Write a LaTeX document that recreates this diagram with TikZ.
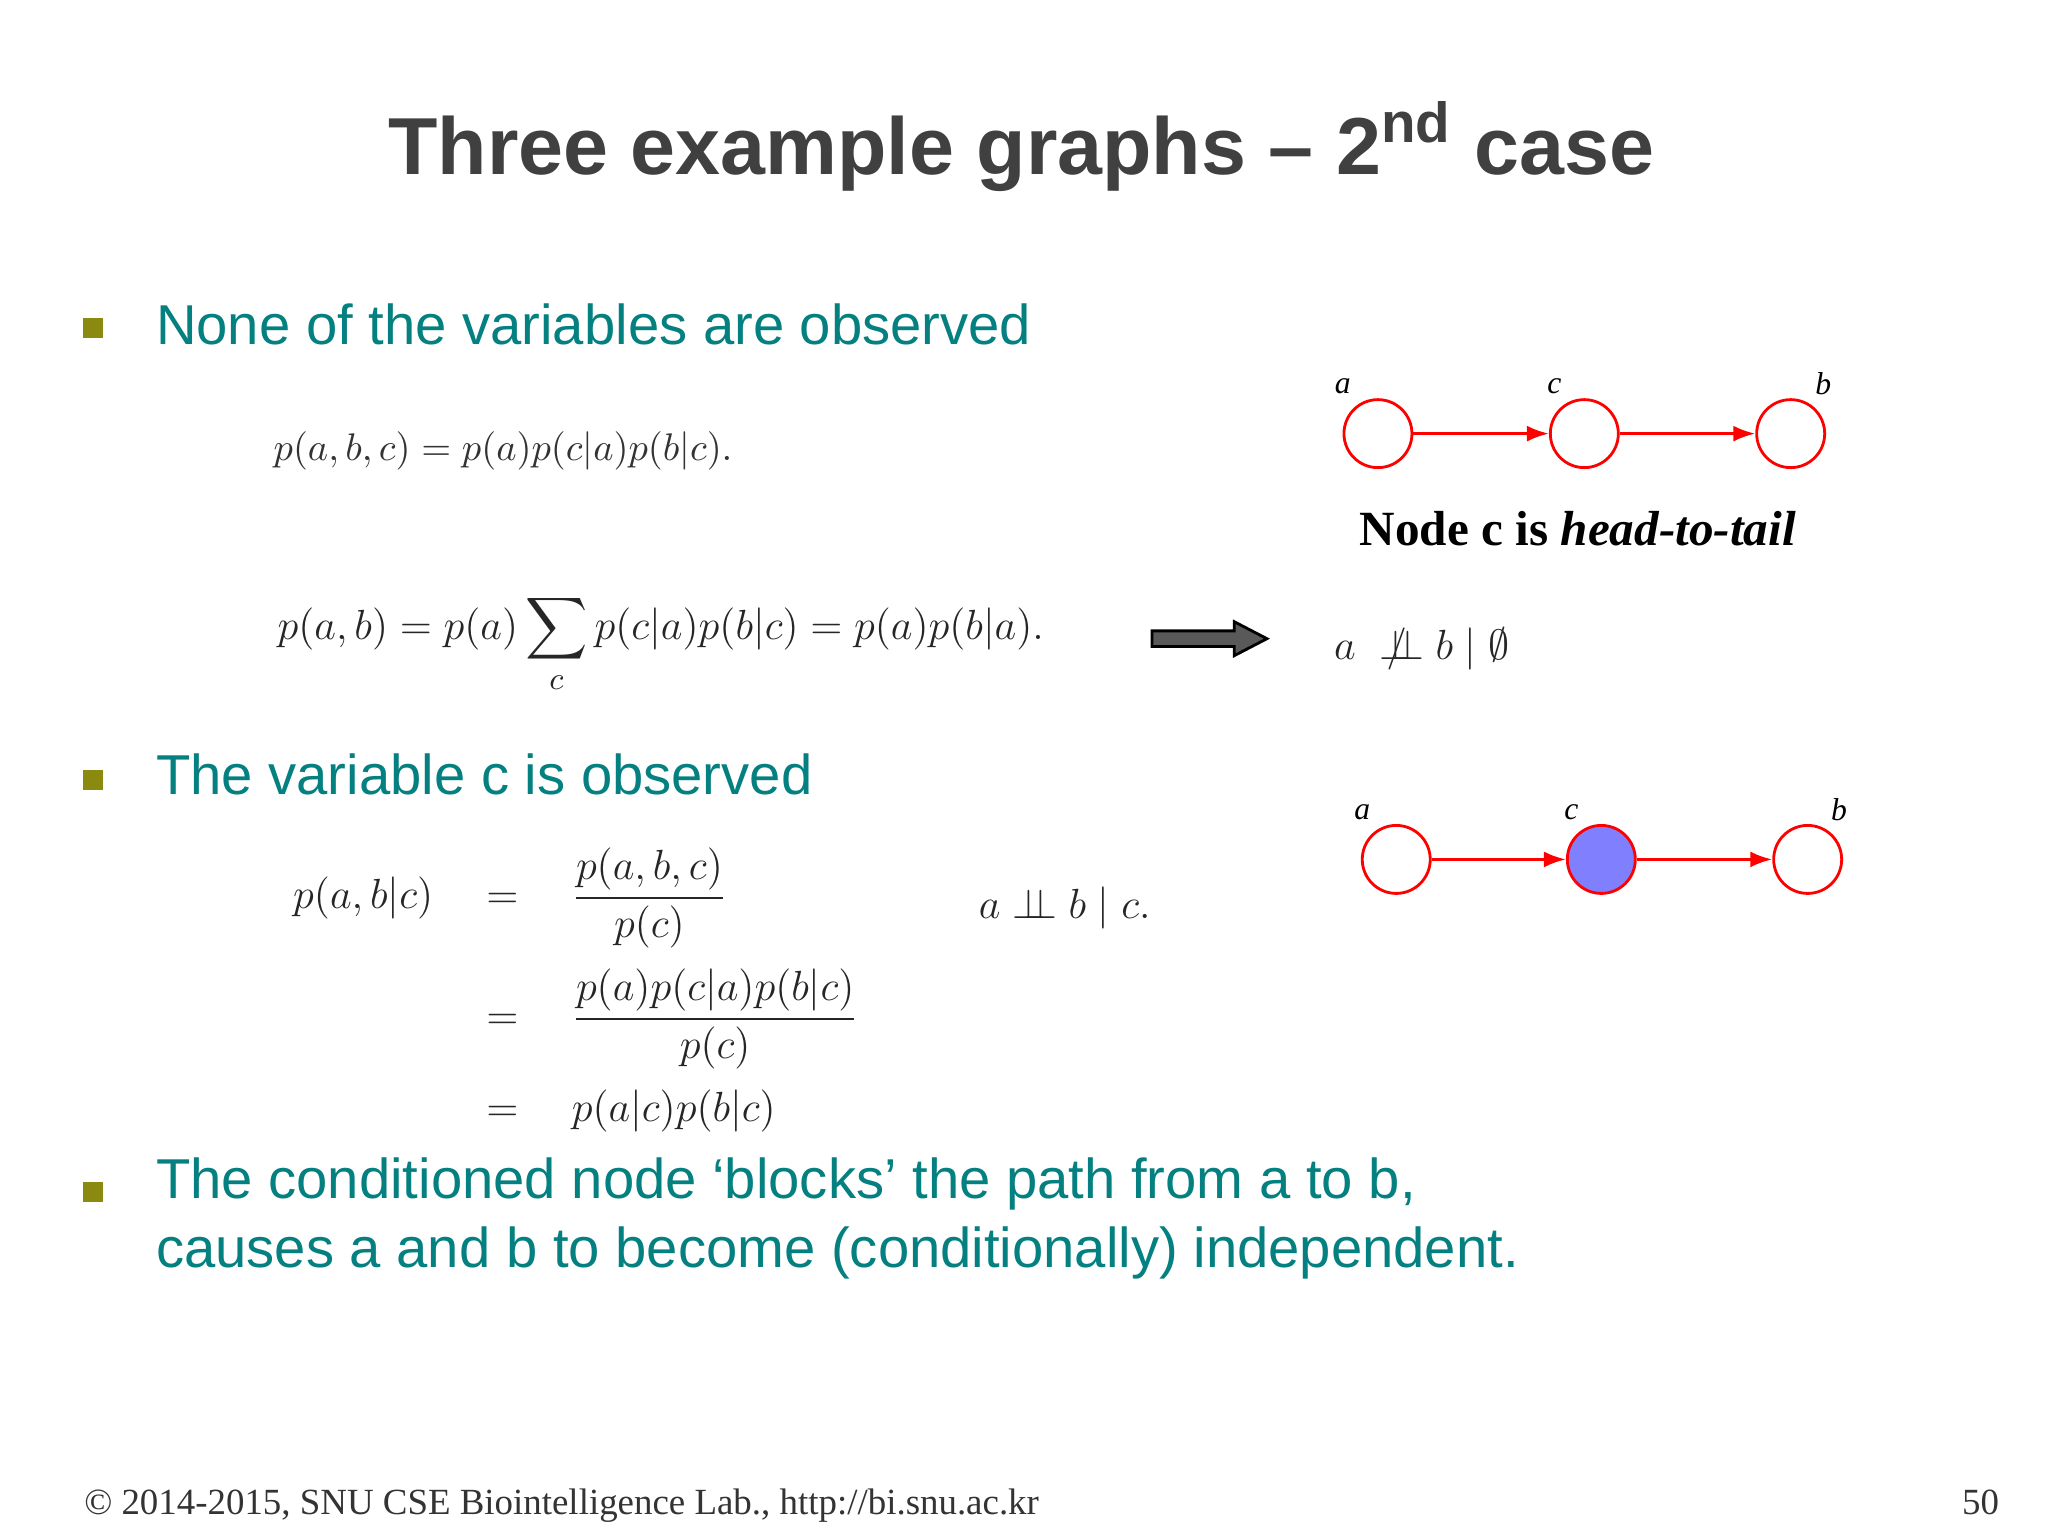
\documentclass[tikz,border=0pt]{standalone}
\usepackage{amsmath,amssymb}
\usepackage{fontspec}
\setmainfont{Liberation Serif}
\newfontfamily\sansf{Liberation Sans}
\usetikzlibrary{arrows.meta}
\definecolor{teal1}{HTML}{048080}
\definecolor{olive1}{HTML}{8A8A10}
\definecolor{title1}{HTML}{404040}
\definecolor{obs}{HTML}{8080FF}
\newcommand{\indep}{\mathrel{\perp\!\!\!\perp}}
\newcommand{\nindep}{\mathrel{\rlap{$\;\,/$}\perp\!\!\!\perp}}
\tikzset{
 gnode/.style={circle,draw=red,thick,minimum size=0.68cm,inner sep=0pt},
 gedge/.style={red,thick,-{Latex[length=2.2mm,width=1.6mm]}},
 glab/.style={font=\fontsize{9}{9}\selectfont\itshape},
 bullet/.style={anchor=west,text=teal1,font=\sansf\fontsize{16}{19.5}\selectfont},
 sq/.style={fill=olive1,minimum size=0.2cm,inner sep=0pt}
}
\begin{document}
\begin{tikzpicture}[x=0.013061cm,y=-0.013061cm]
\useasboundingbox (0,0) rectangle (1568,1176);
\node[font=\sansf\bfseries\fontsize{23}{27}\selectfont,text=title1] (title) at (782,112) {Three example graphs – 2\textsuperscript{nd} case};
\node[sq] (s1) at (71,251) {};
\node[bullet] (b1) at (110,248) {None of the variables are observed};
\node[sq] (s2) at (71,597) {};
\node[bullet] (b2) at (110,593) {The variable c is observed};
\node[sq] (s3) at (71,913) {};
\node[bullet,align=left] (b3) at (110,933) {The conditioned node ‘blocks’ the path from a to b,\\causes a and b to become (conditionally) independent.};
% equations
\node[anchor=west,font=\fontsize{10.5}{12}\selectfont,text=black!80] (e1) at (200,345) {$p(a,b,c)=p(a)p(c|a)p(b|c).$};
\node[anchor=west,font=\fontsize{12.3}{14}\selectfont,text=black!85] (e2) at (203,493) {$\displaystyle p(a,b)=p(a)\sum_c p(c|a)p(b|c)=p(a)p(b|a).$};
\node[anchor=north west,font=\fontsize{11.8}{13}\selectfont,text=black!85] (e3) at (215,640) {$\begin{aligned}p(a,b|c)\quad&=\quad\frac{p(a,b,c)}{p(c)}\\[2pt]&=\quad\frac{p(a)p(c|a)p(b|c)}{p(c)}\\[2pt]&=\quad p(a|c)p(b|c)\end{aligned}$};
\node[anchor=west,font=\fontsize{12}{13}\selectfont,text=black!85] (i1) at (1012,497) {$a\nindep b\mid\emptyset$};
\node[anchor=west,font=\fontsize{12}{13}\selectfont,text=black!85] (i2) at (740,695) {$a\indep b\mid c.$};
% gray arrow
\draw[fill=gray!70!black,draw=black,thick] (882,483)--(945,483)--(945,476)--(970,489)--(945,502)--(945,495)--(882,495)--cycle;
% graph 1
\node[gnode] (a1) at (1055,332) {};
\node[gnode] (c1) at (1213,332) {};
\node[gnode] (bb1) at (1371,332) {};
\draw[gedge] (a1)--(c1);
\draw[gedge] (c1)--(bb1);
\node[glab] (la1) at (1028,296) {a};
\node[glab] (lc1) at (1190,296) {c};
\node[glab] (lb1) at (1396,294) {b};
\node[font=\bfseries\fontsize{14}{16}\selectfont] (ht) at (1208,405) {Node c is \textit{head-to-tail}};
% graph 2
\node[gnode] (a2) at (1069,658) {};
\node[gnode,fill=obs] (c2) at (1226,658) {};
\node[gnode] (bb2) at (1384,658) {};
\draw[gedge] (a2)--(c2);
\draw[gedge] (c2)--(bb2);
\node[glab] (la2) at (1043,622) {a};
\node[glab] (lc2) at (1203,622) {c};
\node[glab] (lb2) at (1408,620) {b};
% footer
\node[anchor=west,font=\fontsize{10.5}{12}\selectfont,text=black!80] (f1) at (55,1153) {\textcopyright{} 2014-2015, SNU CSE Biointelligence Lab., http://bi.snu.ac.kr};
\node[anchor=east,font=\fontsize{10.5}{12}\selectfont,text=black!80] (f2) at (1540,1150) {50};
\end{tikzpicture}
\end{document}
